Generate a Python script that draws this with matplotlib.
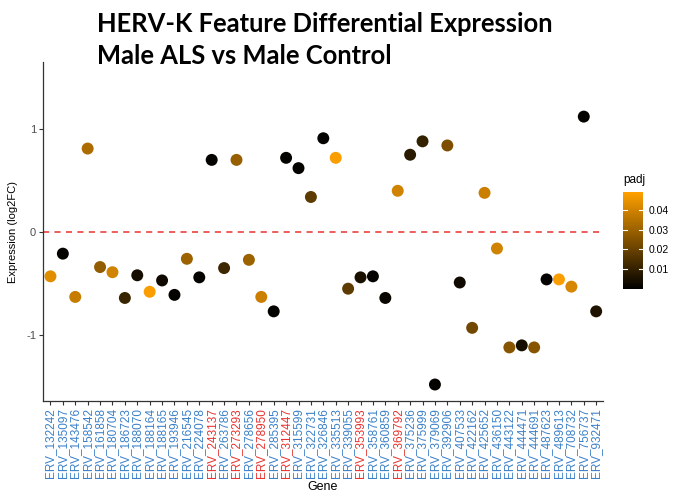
import numpy as np
import matplotlib.pyplot as plt
from matplotlib.colors import LinearSegmentedColormap, Normalize
from matplotlib.cm import ScalarMappable

# HERV-K features, log2 fold change and adjusted p-value
genes = [
    "132242", "135097", "143476", "158542", "161858", "180704", "186723", "188070",
    "188164", "188165", "193946", "216545", "224078", "243137", "263786", "273293",
    "278656", "278950", "285395", "312447", "315599", "322731", "326846", "335513",
    "339055", "353993", "358761", "360859", "369792", "375236", "375999", "379069",
    "392906", "407533", "422162", "425652", "436150", "443122", "444471", "444691",
    "487623", "489613", "708732", "756737", "932471",
]
log2fc = [
    -0.43, -0.21, -0.63, 0.81, -0.34, -0.39, -0.64, -0.42,
    -0.58, -0.47, -0.61, -0.26, -0.44, 0.70, -0.35, 0.70,
    -0.27, -0.63, -0.77, 0.72, 0.62, 0.34, 0.91, 0.72,
    -0.55, -0.44, -0.43, -0.64, 0.40, 0.75, 0.88, -1.48,
    0.84, -0.49, -0.93, 0.38, -0.16, -1.12, -1.10, -1.12,
    -0.46, -0.46, -0.53, 1.12, -0.77,
]
padj = [
    0.043, 0.001, 0.038, 0.033, 0.028, 0.040, 0.011, 0.004,
    0.048, 0.003, 0.001, 0.030, 0.001, 0.001, 0.012, 0.029,
    0.030, 0.039, 0.001, 0.001, 0.001, 0.018, 0.001, 0.048,
    0.018, 0.005, 0.001, 0.002, 0.040, 0.008, 0.010, 0.001,
    0.024, 0.003, 0.022, 0.039, 0.040, 0.026, 0.004, 0.026,
    0.001, 0.048, 0.041, 0.001, 0.006,
]
# features highlighted in red on the axis
highlight = ["243137", "273293", "278950", "312447", "353993", "369792"]

labels = ["ERV_" + g for g in genes]
x = np.arange(1, len(genes) + 1)

cmap = LinearSegmentedColormap.from_list("padj", ["#000000", "#FFA000"])
norm = Normalize(vmin=0.0, vmax=0.049)

fig = plt.figure(figsize=(6.74, 4.94), dpi=100)
ax = fig.add_axes([43 / 674, 1 - 401 / 494, (603 - 43) / 674, (401 - 62) / 494])

ax.axhline(0, color="#e8322e", lw=1.1, dashes=(4, 3.5), zorder=1)
ax.scatter(x, log2fc, c=padj, cmap=cmap, norm=norm, s=74, edgecolors="none", zorder=2)

ax.set_xlim(0.4, 45.55)
ax.set_ylim(-1.64, 1.65)
ax.set_yticks([-1, 0, 1])
ax.set_yticklabels(["-1", "0", "1"])
ax.set_xticks(x)
ax.set_xticklabels(labels, rotation=90, fontsize=8.5, family="Liberation Sans")
for lbl, g in zip(ax.get_xticklabels(), genes):
    lbl.set_color("#e8322e" if g in highlight else "#3a80c8")

for s in ["top", "right"]:
    ax.spines[s].set_visible(False)
for s in ["left", "bottom"]:
    ax.spines[s].set_color("#333333")
    ax.spines[s].set_linewidth(0.9)
ax.tick_params(axis="both", color="#333333", length=3, width=0.8, pad=2)
ax.tick_params(axis="y", labelsize=8, labelcolor="#4d4d4d")
for lbl in ax.get_yticklabels():
    lbl.set_family("Liberation Sans")

ax.set_ylabel("Expression (log2FC)", fontsize=8, family="Liberation Sans", labelpad=6)
ax.set_xlabel("Gene", fontsize=9, family="Liberation Sans", labelpad=2)

# colour bar for padj
cax = fig.add_axes([623 / 674, 1 - 289 / 494, 20 / 674, 97 / 494])
cb = fig.colorbar(ScalarMappable(norm=norm, cmap=cmap), cax=cax)
cb.set_ticks([0.01, 0.02, 0.03, 0.04])
cb.set_ticklabels(["0.01", "0.02", "0.03", "0.04"])
cb.outline.set_visible(False)
cax.tick_params(length=0, labelsize=7.5, pad=4)
for lbl in cax.get_yticklabels():
    lbl.set_family("Liberation Sans")
for t in [0.01, 0.02, 0.03, 0.04]:
    cax.plot([0, 0.2], [t, t], color="white", lw=0.8, transform=cax.get_yaxis_transform())
    cax.plot([0.8, 1], [t, t], color="white", lw=0.8, transform=cax.get_yaxis_transform())
fig.text(623 / 674, 1 - 180 / 494, "padj", fontsize=8.5, family="Liberation Sans", va="center")

fig.text(97 / 674, 1 - 32 / 494, "HERV-K Feature Differential Expression",
         fontsize=18.4, fontweight="bold", family="Lato", va="baseline")
fig.text(97 / 674, 1 - 64 / 494, "Male ALS vs Male Control",
         fontsize=18.4, fontweight="bold", family="Lato", va="baseline")

fig.savefig("out.png", dpi=100)
